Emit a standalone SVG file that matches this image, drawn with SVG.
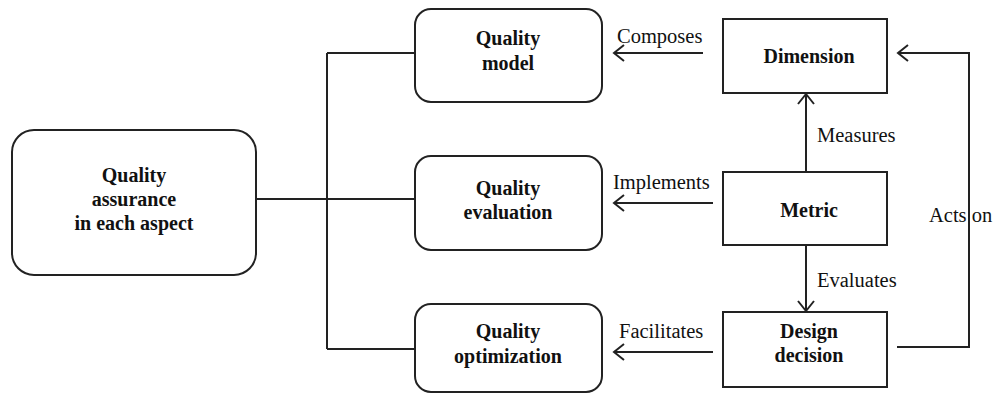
<svg xmlns="http://www.w3.org/2000/svg" width="996" height="395" viewBox="0 0 996 395" font-family="Liberation Serif, Tinos, DejaVu Serif, serif">
<style>
.box{fill:#fff;stroke:#222;stroke-width:2}
.t{font-size:20px;font-weight:bold;fill:#111;text-anchor:middle}
.l{font-size:20.5px;fill:#111}
.c{fill:none;stroke:#222;stroke-width:2}
.ah{fill:none;stroke:#222;stroke-width:2}
</style>
<rect width="996" height="395" fill="#fff"/>
<g id="connectors">
<path class="c" d="M256 199H415M327 53V349M327 53H415M327 349H415"/>
<path class="c" d="M703 53H614"/><path class="ah" d="M624 45L614 53L624 61"/>
<path class="c" d="M713 203H614"/><path class="ah" d="M624 195L614 203L624 211"/>
<path class="c" d="M713 352H614"/><path class="ah" d="M624 344L614 352L624 360"/>
<path class="c" d="M806 172V94"/><path class="ah" d="M798 104L806 94L814 104"/>
<path class="c" d="M806 245V311"/><path class="ah" d="M798 301L806 311L814 301"/>
<path class="c" d="M897 347H969V53H898"/><path class="ah" d="M908 45L898 53L908 61"/>
<text class="l" x="617" y="43">Composes</text>
<text class="l" x="613" y="189">Implements</text>
<text class="l" x="619" y="338">Facilitates</text>
<text class="l" x="817" y="142">Measures</text>
<text class="l" x="817" y="287">Evaluates</text>
<text class="l" x="929" y="222">Acts on</text>
</g>
<g id="qa"><rect class="box" x="12" y="130" width="244" height="145" rx="22"/>
<text class="t" x="134" y="182">Quality</text><text class="t" x="134" y="206">assurance</text><text class="t" x="134" y="230">in each aspect</text></g>
<g id="qmodel"><rect class="box" x="415" y="9" width="187" height="93" rx="16"/>
<text class="t" x="508" y="45">Quality</text><text class="t" x="508" y="70">model</text></g>
<g id="qeval"><rect class="box" x="415" y="156" width="187" height="94" rx="16"/>
<text class="t" x="508" y="195">Quality</text><text class="t" x="508" y="219">evaluation</text></g>
<g id="qopt"><rect class="box" x="415" y="304" width="187" height="88" rx="16"/>
<text class="t" x="508" y="338">Quality</text><text class="t" x="508" y="363">optimization</text></g>
<g id="dimension"><rect class="box" x="723" y="19" width="164" height="74"/>
<text class="t" x="809" y="63">Dimension</text></g>
<g id="metric"><rect class="box" x="723" y="172" width="164" height="73"/>
<text class="t" x="809" y="217">Metric</text></g>
<g id="design"><rect class="box" x="723" y="312" width="164" height="75"/>
<text class="t" x="809" y="338">Design</text><text class="t" x="809" y="362">decision</text></g>
</svg>
